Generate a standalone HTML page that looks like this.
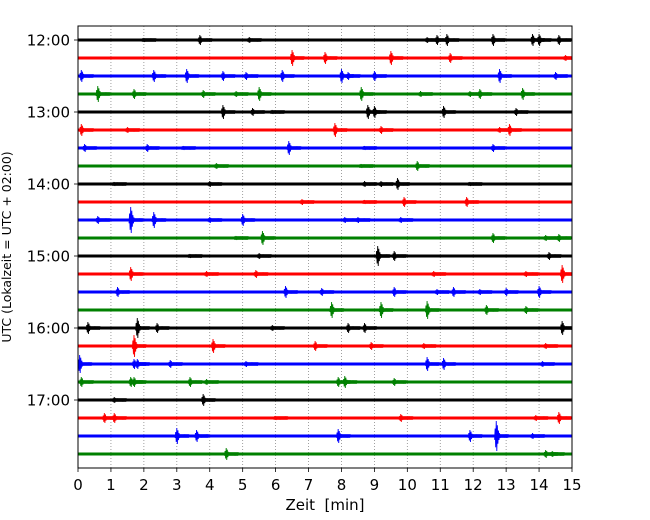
<!DOCTYPE html>
<html><head><meta charset="utf-8"><style>
body{margin:0;background:#fff}
svg{display:block;font-family:"DejaVu Sans","Liberation Sans",sans-serif}
</style></head><body>
<svg id="chart" width="650" height="520" viewBox="0 0 650 520">
<defs><clipPath id="clip"><rect x="78" y="26" width="494" height="442"/></clipPath></defs>
<rect x="0" y="0" width="650" height="520" fill="#fff"/>
<g id="grid"></g><g id="traces" clip-path="url(#clip)"></g><g id="axes"></g>
<text x="325" y="510" font-size="15" text-anchor="middle" xml:space="preserve">Zeit  [min]</text>
<text transform="translate(11,247) rotate(-90)" font-size="12.5" text-anchor="middle">UTC (Lokalzeit = UTC + 02:00)</text>
</svg>
<script>
const xTicks=[0,1,2,3,4,5,6,7,8,9,10,11,12,13,14,15];
const yTickLabels=["12:00","13:00","14:00","15:00","16:00","17:00"];
const yTickRows=[0,4,8,12,16,20];
const rowColors=["#000000","#ff0000","#0000ff","#008000"];
const rowEvents=[
[[2.0,2],[3.7,5],[5.2,3],[10.6,3],[10.9,5],[11.2,6],[12.6,6],[13.8,6],[14.0,6],[14.6,5]],
[[6.5,8],[7.5,6],[9.5,7],[11.3,5],[14.8,3]],
[[0.1,6],[2.3,6],[3.3,7],[4.4,5],[5.1,4],[6.2,6],[8.0,7],[8.2,4],[9.0,5],[12.8,7],[14.5,4]],
[[0.6,8],[1.7,5],[3.8,4],[4.8,3],[5.5,7],[8.6,7],[10.4,3],[11.9,3],[12.2,5],[13.5,6]],
[[4.4,7],[5.3,4],[5.9,2],[8.8,7],[9.0,6],[11.1,6],[13.3,4]],
[[0.1,6],[1.5,3],[7.8,7],[9.2,4],[12.8,3],[13.1,6]],
[[0.2,4],[2.1,4],[3.2,2],[6.4,7],[8.7,2],[12.6,4]],
[[4.2,3],[8.6,2],[10.3,5]],
[[1.1,2],[4.0,3],[8.7,3],[9.2,3],[9.7,6],[11.9,2]],
[[6.8,3],[8.7,2],[9.9,5],[11.8,5]],
[[0.6,4],[1.6,13],[2.3,8],[4.0,3],[5.0,6],[8.1,3],[8.5,3],[9.8,3]],
[[4.8,2],[5.6,7],[12.6,5],[14.2,3],[14.6,4]],
[[3.4,2],[5.5,3],[9.1,10],[9.6,5],[14.3,4]],
[[1.6,7],[3.9,3],[5.4,4],[10.8,3],[13.6,3],[14.7,9]],
[[1.2,5],[6.3,6],[7.4,4],[9.6,5],[10.9,3],[11.4,5],[12.2,3],[13.0,4],[14.0,6]],
[[7.7,8],[9.2,8],[10.6,9],[12.4,5],[13.6,4]],
[[0.3,6],[1.8,10],[2.4,5],[5.9,3],[8.2,5],[8.7,5],[14.7,7]],
[[1.7,11],[4.1,7],[7.2,5],[8.9,4],[10.5,3],[14.2,3]],
[[0.05,9],[1.7,5],[1.8,5],[2.8,4],[5.1,3],[10.6,7],[11.1,6],[14.1,3]],
[[0.1,5],[1.6,5],[1.7,5],[3.4,5],[3.9,3],[7.9,5],[8.1,6],[9.6,4]],
[[1.1,3],[3.8,6]],
[[0.8,5],[1.1,5],[6.0,2],[9.8,4],[13.9,3],[14.6,6]],
[[3.0,8],[3.6,6],[7.9,7],[11.9,6],[12.7,15],[13.8,3]],
[[4.5,6],[14.2,4],[14.4,3]]
];
const X0=78,X1=572,Y0=26,Y1=468,ROW0=40,ROWH=18;
const xs=m=>X0+(X1-X0)*m/15;
const ys=r=>ROW0+r*ROWH;
const NS="http://www.w3.org/2000/svg";
function mk(tag,attrs,parent){const e=document.createElementNS(NS,tag);for(const k in attrs)e.setAttribute(k,attrs[k]);parent.appendChild(e);return e;}
const grid=document.getElementById('grid'),tr=document.getElementById('traces'),ax=document.getElementById('axes');
xTicks.forEach(t=>{
  const g=mk('line',{x1:xs(t),x2:xs(t),y1:Y0,y2:Y1,stroke:'#888','stroke-width':0.8,'stroke-dasharray':'1,2'},grid);
  
  
  const tk=mk('line',{x1:xs(t),x2:xs(t),y1:Y1,y2:Y1+4,stroke:'#000','stroke-width':0.8},ax);
  
  
  const tx=mk('text',{x:xs(t),y:Y1+22,'font-size':15,'text-anchor':'middle'},ax);
  tx.textContent=t;
  
  
});
yTickRows.forEach((r,i)=>{
  const tk=mk('line',{x1:X0-4,x2:X0,y1:ys(r),y2:ys(r),stroke:'#000','stroke-width':0.8},ax);
  
  
  const tx=mk('text',{x:X0-8,y:ys(r)+5.5,'font-size':15,'text-anchor':'end'},ax);
  tx.textContent=yTickLabels[i];
  
  
});
rowEvents.forEach((evs,r)=>{
  const c=rowColors[r%4],y=ys(r);
  const g=mk('g',{},tr);
  
  
  mk('line',{x1:X0,x2:X1,y1:y,y2:y,stroke:c,'stroke-width':3},g);
  evs.forEach(([m,a])=>{
    let pts=[];const x=xs(m);
    for(let k=-3;k<=22;k++){
      const env=k<0?(k+4)/4:(k<2?1:Math.exp(-(k-1)/3));
      const amp=Math.max(1.8,a*env);
      pts.push((x+k*0.55).toFixed(2)+','+(y+(k%2?amp:-amp)).toFixed(1));
    }
    const p=mk('polyline',{points:pts.join(' '),fill:'none',stroke:c,'stroke-width':0.9},g);
    
    
  });
});
const frame=mk('rect',{x:X0,y:Y0,width:X1-X0,height:Y1-Y0,fill:'none',stroke:'#000','stroke-width':1},ax);


</script>
</body></html>
